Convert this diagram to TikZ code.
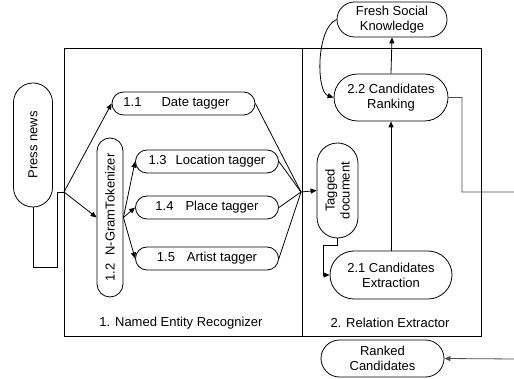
\documentclass[tikz,border=0pt]{standalone}
\usepackage{fontspec}
\setmainfont{Liberation Sans}
\usetikzlibrary{shapes.misc,arrows.meta,calc}

\begin{document}
\begin{tikzpicture}[
    x=1pt, y=-1pt,
    pill/.style={draw, rounded rectangle, inner sep=0pt, line width=0.8pt, align=center, font=\fontsize{13}{15}\selectfont},
    vpill/.style={pill, rotate=90},
    arr/.style={-{Triangle[length=6pt,width=5pt]}, line width=0.8pt},
    wire/.style={line width=0.8pt},
    gwire/.style={line width=0.8pt, black!70},
    lbl/.style={font=\fontsize{13}{15}\selectfont}
]
\useasboundingbox (0,0) rectangle (514,379);

% ===== Frame: two modules =====
\draw[wire] (64,48) rectangle (481,336);
\draw[wire] (302,48) -- (302,336);
\node[lbl] (nerlbl) at (181,323) {1. Named Entity Recognizer};
\node[lbl] (rellbl) at (390,323) {2. Relation Extractor};

% Input
\node[vpill, minimum width=124pt, minimum height=39pt] (press) at (33,145) {Press news};

% NER nodes
\node[pill, minimum width=143pt, minimum height=23pt] (date) at (183.5,103.5) {1.1\hspace{20pt}Date tagger\hspace{14pt}};
\node[vpill, minimum width=159pt, minimum height=26pt] (ngram) at (110,217.5) {1.2\hspace{8pt}N-GramTokenizer};
\node[pill, minimum width=143pt, minimum height=23pt] (loc) at (207,161.5) {1.3\hspace{9pt}Location tagger};
\node[pill, minimum width=143pt, minimum height=23pt] (place) at (207,207.5) {1.4\hspace{12pt}Place tagger};
\node[pill, minimum width=143pt, minimum height=23pt] (artist) at (207,258.5) {1.5\hspace{12pt}Artist tagger};

% Relation extractor nodes
\node[vpill, minimum width=95pt, minimum height=41pt] (tagged) at (337.5,190.5) {Tagged\\document};
\node[pill, minimum width=122pt, minimum height=48pt] (extr) at (391,275) {2.1 Candidates\\Extraction};
\node[pill, minimum width=114pt, minimum height=47pt] (rank) at (391,97.5) {2.2 Candidates\\Ranking};

% Outputs
\node[pill, minimum width=110pt, minimum height=35pt] (fresh) at (392,19.5) {Fresh Social\\Knowledge};
\node[pill, minimum width=123pt, minimum height=37pt] (ranked) at (382.5,358.5) {Ranked\\Candidates};

% Helper points
\coordinate (split) at (64,192);
\coordinate (merge) at (301,192);

% Edges: input into NER
\draw[wire] (press.west) -- (33,267) -- (57,267) -- (57,192) -- (split);
\draw[arr] (split) -- (date.west);
\draw[arr] (split) -- (ngram.north);

% Tokenizer to taggers
\draw[arr] (ngram.south) -- (loc.west);
\draw[arr] (ngram.south) -- (place.west);
\draw[arr] (ngram.south) -- (artist.west);

% Taggers merge into tagged document
\draw[wire] (date.east) -- (merge);
\draw[wire] (loc.east) -- (merge);
\draw[wire] (place.east) -- (merge);
\draw[wire] (artist.east) -- (merge);
\draw[arr] (merge) -- (tagged.north);

% Relation extractor flow
\draw[arr] (tagged.west) -- (337.5,245) -- (323,245) -- (323,275) -- (extr.west);
\draw[arr] (extr.north) -- (rank.south);
\draw[arr] (rank.north) -- (fresh.south);
\draw[arr] (fresh.west) .. controls (316,28) and (316,92) .. (rank.west);

% Feedback to ranked output
\draw[gwire, -{Triangle[length=6pt,width=5pt]}] (rank.east) -- (462,97.5) -- (462,192) -- (516,192) -- (516,359) -- (ranked.east);

\end{tikzpicture}
\end{document}
